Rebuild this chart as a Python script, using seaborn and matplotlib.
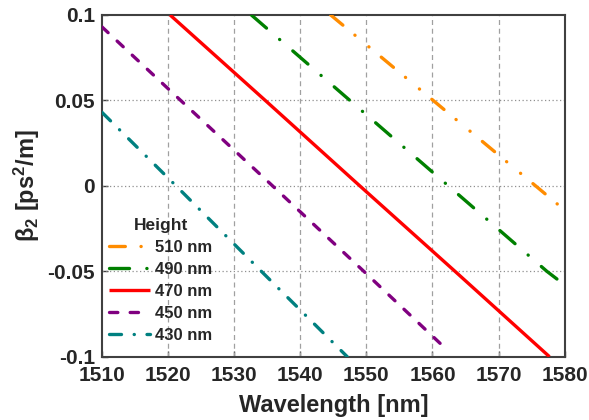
import numpy as np
import pandas as pd
import matplotlib
matplotlib.use('Agg')
import matplotlib.pyplot as plt
import seaborn as sns

# Data
heights = ['510 nm', '490 nm', '470 nm', '450 nm', '430 nm']
wl_510 = [1544.6, 1560.1, 1575.6, 1579.0]
b2_510 = [0.1, 0.05, 0.0, -0.011]
wl_490 = [1532.6, 1547.5, 1562.4, 1577.3, 1580.0]
b2_490 = [0.1, 0.05, 0.0, -0.05, -0.058]
wl_470 = [1520.3, 1534.7, 1549.0, 1563.4, 1577.7]
b2_470 = [0.1, 0.05, 0.0, -0.05, -0.1]
wl_450 = [1510.0, 1521.9, 1535.8, 1549.6, 1562.2]
b2_450 = [0.093, 0.05, 0.0, -0.05, -0.096]
wl_430 = [1510.0, 1521.2, 1534.1, 1547.1]
b2_430 = [0.043, 0.0, -0.05, -0.1]

xticks = [1510, 1520, 1530, 1540, 1550, 1560, 1570, 1580]
yticks = [-0.1, -0.05, 0, 0.05, 0.1]
ytick_labels = ['-0.1', '-0.05', '0', '0.05', '0.1']

colors = {'510 nm': '#ff8c00', '490 nm': '#008000', '470 nm': '#ff0000',
          '450 nm': '#800080', '430 nm': '#008080'}
dashes = {'510 nm': (4.75, 4.7, 0.05, 5.4, 0.05, 4.8),
          '490 nm': (6.0, 5.2, 0.05, 5.2),
          '470 nm': '',
          '450 nm': (2.5, 3.7),
          '430 nm': (3.6, 3.8, 0.05, 3.8)}

series = {'510 nm': (wl_510, b2_510), '490 nm': (wl_490, b2_490),
          '470 nm': (wl_470, b2_470), '450 nm': (wl_450, b2_450),
          '430 nm': (wl_430, b2_430)}

sns.set_style('ticks')
plt.rcParams['font.family'] = ['Liberation Sans', 'DejaVu Sans']
plt.rcParams['font.weight'] = 'bold'
plt.rcParams['axes.unicode_minus'] = False
plt.rcParams['mathtext.fontset'] = 'custom'
plt.rcParams['mathtext.rm'] = 'Liberation Sans'
plt.rcParams['mathtext.bf'] = 'Liberation Sans:bold'
plt.rcParams['mathtext.it'] = 'Liberation Sans:italic'

fig = plt.figure(figsize=(5.89, 4.2), dpi=100)
ax = fig.add_axes([0.1732, 0.1507, 0.7855, 0.8136])

for h in heights:
    df = pd.DataFrame({'Wavelength': series[h][0], 'beta2': series[h][1]})
    sns.lineplot(data=df, x='Wavelength', y='beta2', ax=ax, color=colors[h],
                 linewidth=2.4, label=h, sort=False, zorder=3)
    ln = ax.get_lines()[-1]
    ln.set_dash_capstyle('round')
    ln.set_solid_capstyle('butt')
    if dashes[h]:
        ln.set_dashes(dashes[h])

ax.set_xlim(1510, 1580)
ax.set_ylim(-0.1, 0.1)
ax.set_xticks(xticks)
ax.set_yticks(yticks)
ax.set_yticklabels(ytick_labels)

# grid: dashed verticals, dotted horizontals
for x in xticks[1:-1]:
    ax.axvline(x, color='#a0a0a0', lw=0.9, ls=(0, (4, 3)), zorder=1)
for y in yticks[1:-1]:
    ax.axhline(y, color='#909090', lw=0.9, ls=(0, (1, 2)), zorder=1)

for s in ax.spines.values():
    s.set_color('#404040')
    s.set_linewidth(1.5)
ax.tick_params(direction='in', length=4, width=1, color='#404040', labelsize=15)
ax.tick_params(axis='x', pad=7)
ax.tick_params(axis='y', pad=5)
for lab in ax.get_xticklabels() + ax.get_yticklabels():
    lab.set_fontweight('bold')

ax.set_xlabel('Wavelength [nm]', fontsize=17, fontweight='bold', labelpad=6)
ax.set_ylabel(r'$\mathregular{\beta_2}$ [ps$\mathbf{^2}$/m]', fontsize=17,
              fontweight='bold', labelpad=4)

leg = ax.legend(title='Height', loc='lower left', bbox_to_anchor=(0.0, 0.02),
                frameon=False, fontsize=12, title_fontproperties={'weight': 'bold', 'size': 12.5},
                handlelength=2.5, handletextpad=0.3, labelspacing=0.42,
                borderaxespad=0.2, borderpad=0.2)
for t in leg.get_texts():
    t.set_fontweight('bold')

fig.savefig('out.png', dpi=100)
